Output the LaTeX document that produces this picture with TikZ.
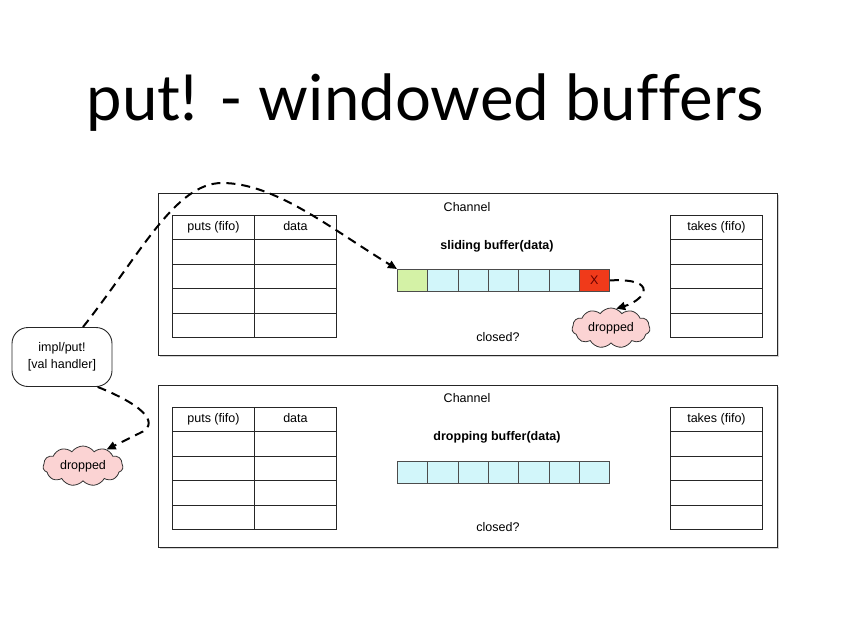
\documentclass[tikz,border=0pt]{standalone}
\usepackage{fontspec}
\setmainfont{Liberation Sans}
\newfontfamily\titlefont[Ligatures=NoCommon]{Lato}
\usetikzlibrary{positioning,arrows.meta,shapes.symbols,shadows}
\definecolor{cellcyan}{HTML}{D2F6FA}
\definecolor{cellgreen}{HTML}{D4F2A6}
\definecolor{cellred}{HTML}{F03A1A}
\definecolor{cloudpink}{HTML}{FBD3D3}
\begin{document}
\begin{tikzpicture}[x=1pt,y=-1pt]
\tikzset{every node/.style={font=\fontsize{12.5}{14}\selectfont,inner sep=0pt}}
\tikzset{cell/.style={draw=black!85,line width=0.9pt,minimum width=82pt,minimum height=24.4pt,anchor=north west},
         tcell/.style={cell,minimum width=92pt},
         head/.style={text height=9pt,text depth=2.6pt},
         buf/.style={draw=black!70,line width=0.8pt,fill=#1,minimum width=30.3pt,minimum height=22pt,anchor=north west},
         chan/.style={draw=black!85,line width=0.9pt,fill=white,minimum width=619pt,minimum height=162pt,anchor=north west,
                      drop shadow={shadow xshift=1.5pt,shadow yshift=-1.5pt,opacity=0.35}},
         drop/.style={cloud,cloud puffs=11,cloud puff arc=110,aspect=2.2,draw=black!80,line width=0.8pt,fill=cloudpink,
                      minimum width=78pt,minimum height=40pt},
         flow/.style={dashed,line width=2pt,dash pattern=on 9pt off 6pt,-{Triangle[length=9pt,width=8pt]}}}
%\tikzset{every node/.style={draw=red}}
\useasboundingbox (0,0) rectangle (850,637);
\node[font=\titlefont\fontsize{63.5}{70}\selectfont,anchor=base] (title) at (425,120) {put! - windowed buffers};
% channel with sliding buffer
\node[chan] (ch1) at (158,193) {};
\node (ch1name) at (467,207) {Channel};
\foreach \r in {0,...,4} {
    \node[cell] (pa\r) at (172,215+24.4*\r) {};
    \node[cell] (da\r) at (254,215+24.4*\r) {};
    \node[tcell] (ta\r) at (670,215+24.4*\r) {};
}
\node[head] at (pa0) {puts (fifo)};
\node[head] at (da0) {data};
\node[head] at (ta0) {takes (fifo)};
\node[font=\fontsize{12.5}{14}\selectfont\bfseries] (slide) at (497,246) {sliding buffer(data)};
\foreach \i/\c in {1/cellgreen,2/cellcyan,3/cellcyan,4/cellcyan,5/cellcyan,6/cellcyan,7/cellred}
    \node[buf=\c] (s\i) at (397+30.3*\i-30.3,269) {};
\node[text=black!60!red] (xmark) at (s7) {X};
\node (closeda) at (498,337) {closed?};
\node[drop] (d1) at (611,328) {dropped};
% channel with dropping buffer
\node[chan] (ch2) at (158,385) {};
\node (ch2name) at (467,398) {Channel};
\foreach \r in {0,...,4} {
    \node[cell] (pb\r) at (172,407+24.4*\r) {};
    \node[cell] (db\r) at (254,407+24.4*\r) {};
    \node[tcell] (tb\r) at (670,407+24.4*\r) {};
}
\node[head] at (pb0) {puts (fifo)};
\node[head] at (db0) {data};
\node[head] at (tb0) {takes (fifo)};
\node[font=\fontsize{12.5}{14}\selectfont\bfseries] (dropbuf) at (497,437) {dropping buffer(data)};
\foreach \i in {1,...,7}
    \node[buf=cellcyan] (b\i) at (397+30.3*\i-30.3,461) {};
\node (closedb) at (498,527) {closed?};
% put! and the dropped value
\node[draw=black!85,line width=0.9pt,rounded corners=16pt,minimum width=100pt,minimum height=59pt,fill=white,align=center] (impl) at (62,357)
    {impl/put!\\[3pt][val handler]};
\node[drop,minimum width=80pt] (d2) at (83,466) {dropped};
\draw[flow] (impl.55) .. controls (140,255) and (175,183) .. (222,183)
    .. controls (275,183) and (330,228) .. (s1.north west);
\draw[flow] (s7.east) .. controls (660,278) and (645,300) .. (d1.75);
\draw[flow] (impl.-40) .. controls (150,408) and (158,425) .. (140,433) -- (d2.35);
\end{tikzpicture}
\end{document}
